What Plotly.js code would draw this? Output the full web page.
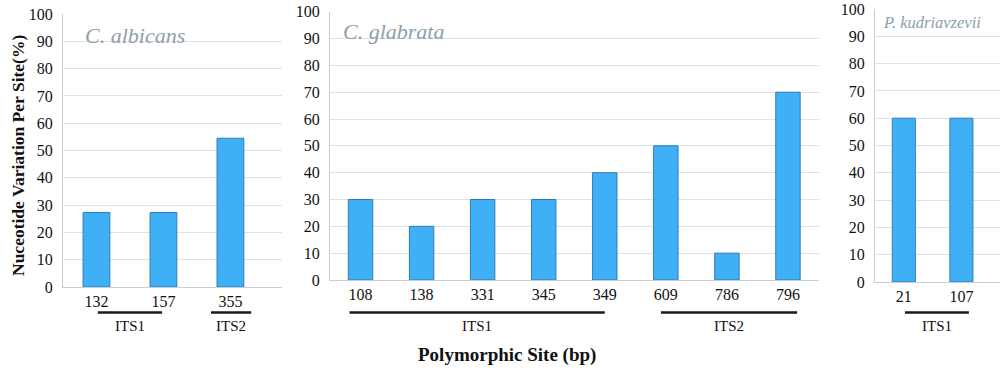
<!DOCTYPE html>
<html>
<head>
<meta charset="utf-8">
<script src="https://cdn.plot.ly/plotly-3.0.1.min.js"></script>
<style>html,body{margin:0;padding:0;background:#fff;}#chart{width:1000px;height:377px;}</style>
</head>
<body>
<div id="chart"></div>
<script>
// ---- data ----
const albicansSites = ['132', '157', '355'];
const albicansValues = [27.3, 27.3, 54.5];
const glabrataSites = ['108', '138', '331', '345', '349', '609', '786', '796'];
const glabrataValues = [30, 20, 30, 30, 40, 50, 10, 70];
const kudriavzeviiSites = ['21', '107'];
const kudriavzeviiValues = [60, 60];
const panelNames = ['C. albicans', 'C. glabrata', 'P. kudriavzevii'];
const yTicks = [0, 10, 20, 30, 40, 50, 60, 70, 80, 90, 100];
// region membership: [label, first site index, last site index]
const albicansRegions = [['ITS1', 0, 1], ['ITS2', 2, 2]];
const glabrataRegions = [['ITS1', 0, 4], ['ITS2', 5, 7]];
const kudriavzeviiRegions = [['ITS1', 0, 1]];
const yTitle = 'Nuceotide Variation Per Site(%)';
const xTitle = 'Polymorphic Site (bp)';

// ---- style ----
const W = 1000, H = 377;
const py = v => 1 - v / H;
const panels = [
  {sites: albicansSites, vals: albicansValues, regions: albicansRegions, name: panelNames[0],
   xd: [63, 282], yd: [287, 14], range: [-0.5, 2.77], pads: [[-0.02, -0.02], [0.29, 0.31]],
   title: {x: 83, y: 35, size: 22}},
  {sites: glabrataSites, vals: glabrataValues, regions: glabrataRegions, name: panelNames[1],
   xd: [330, 818.5], yd: [280, 11.7], range: [-0.5, 7.5], pads: [[0.18, 0.0], [0.08, 0.15]],
   title: {x: 341, y: 32, size: 22}},
  {sites: kudriavzeviiSites, vals: kudriavzeviiValues, regions: kudriavzeviiRegions, name: panelNames[2],
   xd: [875, 1000], yd: [282, 9], range: [-0.5, 1.67], pads: [[-0.02, 0.13]],
   title: {x: 881, y: 23, size: 16.5}}
];
const serif = 'Liberation Serif';
const gridC = 'rgb(221,226,230)';
const axisC = 'rgb(200,206,211)';

const data = [];
const layout = {
  width: W, height: H,
  margin: {l: 0, r: 0, t: 0, b: 0},
  paper_bgcolor: '#fff', plot_bgcolor: '#fff',
  showlegend: false, bargap: 0.6,
  font: {family: serif},
  shapes: [], annotations: []
};

panels.forEach((p, i) => {
  const k = i === 0 ? '' : String(i + 1);
  data.push({
    type: 'bar', x: p.sites, y: p.vals, xaxis: 'x' + k, yaxis: 'y' + k,
    width: 0.4,
    marker: {color: 'rgb(64,176,246)', line: {color: 'rgb(45,125,185)', width: 1}},
    hoverinfo: 'x+y'
  });
  layout['xaxis' + k] = {
    domain: [p.xd[0] / W, p.xd[1] / W], anchor: 'y' + k, type: 'category',
    range: p.range, showgrid: false, zeroline: false,
    showline: true, linecolor: axisC, linewidth: 1,
    ticks: '', tickfont: {family: serif, size: 16, color: '#111'}, ticklabelstandoff: 0
  };
  layout['yaxis' + k] = {
    domain: [py(p.yd[0]), py(p.yd[1])], anchor: 'x' + k,
    range: [0, 100], tickvals: yTicks, showgrid: true, gridcolor: gridC, gridwidth: 1,
    zeroline: false, showline: true, linecolor: axisC, linewidth: 1,
    ticks: '', tickfont: {family: serif, size: 16, color: '#111'}, ticklabelstandoff: 6
  };
  // panel title
  layout.annotations.push({
    xref: 'paper', yref: 'paper', x: p.title.x / W, y: py(p.title.y),
    xanchor: 'left', yanchor: 'middle', showarrow: false,
    text: p.name,
    font: {family: serif, style: 'italic', size: p.title.size, color: 'rgb(140,160,170)'}
  });
  // region bars and labels
  p.regions.forEach((r, j) => {
    const x0 = r[1] - p.pads[j][0], x1 = r[2] + p.pads[j][1];
    layout.shapes.push({
      type: 'line', xref: 'x' + k, yref: 'paper',
      x0: x0, x1: x1, y0: py(312.5), y1: py(312.5),
      line: {color: '#1a1a1a', width: 2.5}
    });
    layout.annotations.push({
      xref: 'x' + k, yref: 'paper', x: (x0 + x1) / 2, y: py(326),
      xanchor: 'center', yanchor: 'middle', showarrow: false,
      text: r[0], font: {family: serif, size: 15, color: '#111'}
    });
  });
});

layout.annotations.push({
  xref: 'paper', yref: 'paper', x: 18 / W, y: py(156), textangle: -90,
  xanchor: 'center', yanchor: 'middle', showarrow: false,
  text: '<b>' + yTitle + '</b>', font: {family: serif, size: 17.5, color: '#111'}
});
layout.annotations.push({
  xref: 'paper', yref: 'paper', x: 507 / W, y: py(355),
  xanchor: 'center', yanchor: 'middle', showarrow: false,
  text: '<b>' + xTitle + '</b>', font: {family: serif, size: 19, color: '#111'}
});

Plotly.newPlot('chart', data, layout, {displayModeBar: false, staticPlot: true});
</script>
</body>
</html>
